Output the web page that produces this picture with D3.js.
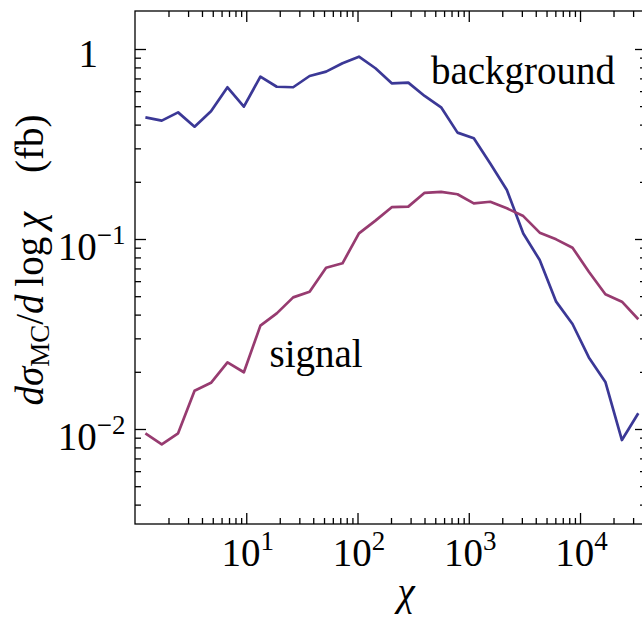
<!DOCTYPE html>
<html>
<head>
<meta charset="utf-8">
<script src="https://cdn.jsdelivr.net/npm/d3@7"></script>
<style>
  html, body { margin: 0; padding: 0; background: #fff; }
  svg { display: block; }
  text { font-family: "Liberation Serif", "Times New Roman", serif; fill: #000; }
</style>
</head>
<body>
<svg id="chart" width="642" height="617"></svg>
<script>
// ---- data ----
const chi = [1.24, 1.74, 2.44, 3.43, 4.82, 6.78, 9.52, 13.4, 18.8, 26.4, 37.1, 52.2, 73.3, 103, 145, 203, 286, 401, 564, 792, 1110, 1560, 2200, 3090, 4340, 6100, 8560, 12000, 16900, 23800, 33400];
const background = [0.437, 0.420, 0.464, 0.390, 0.470, 0.629, 0.497, 0.715, 0.633, 0.629, 0.721, 0.760, 0.841, 0.911, 0.792, 0.660, 0.665, 0.566, 0.493, 0.363, 0.339, 0.250, 0.181, 0.107, 0.0775, 0.0468, 0.0357, 0.0238, 0.0177, 0.00875, 0.0121];
const signal = [0.00949, 0.00830, 0.00949, 0.0159, 0.0175, 0.0224, 0.0199, 0.0350, 0.0406, 0.0493, 0.0528, 0.0706, 0.0745, 0.107, 0.125, 0.147, 0.148, 0.175, 0.177, 0.172, 0.154, 0.157, 0.145, 0.132, 0.108, 0.0996, 0.0900, 0.0673, 0.0512, 0.0468, 0.0378];
const xMajorTicks = [10, 100, 1000, 10000];
const xTickExp = ["1", "2", "3", "4"];
const yMajorTicks = [1, 0.1, 0.01];
const yTickBase = ["1", "10", "10"];
const yTickExp = ["", "\u22121", "\u22122"];
const seriesNames = ["background", "signal"];
const seriesColors = ["#3b3896", "#973b70"];

(function () {
// ---- layout ----
const pL = 135, pR = 646, pT = 11, pB = 524;
const svg = d3.select("#chart");

const x = d3.scaleLog().domain([1, Math.pow(10, 4.593)]).range([pL, pR]);
const y = d3.scaleLog().domain([Math.pow(10, -2.5), Math.pow(10, 0.2)]).range([pB, pT]);

const xMinor = x.ticks().filter(v => !xMajorTicks.includes(v) && v > x.domain()[0] && v <= x.domain()[1]);
const yMinor = y.ticks().filter(v => !yMajorTicks.some(t => Math.abs(t - v) / t < 1e-6));

svg.append("defs").append("clipPath").attr("id", "clip")
  .append("rect").attr("x", pL).attr("y", pT).attr("width", pR - pL).attr("height", pB - pT);

const line = d3.line().x((d, i) => x(chi[i])).y(d => y(d));
[background, signal].forEach((s, k) => {
  svg.append("path").datum(s)
    .attr("clip-path", "url(#clip)")
    .attr("d", line)
    .attr("fill", "none")
    .attr("stroke", seriesColors[k])
    .attr("stroke-width", 2.7)
    .attr("stroke-linejoin", "round")
    .attr("stroke-linecap", "butt");
});

function styleAxis(g) {
  g.select(".domain").remove();
  g.selectAll(".tick line").attr("stroke", "#000").attr("stroke-width", 1.3);
  g.selectAll(".tick text").remove();
}
const majorLen = 11, minorLen = 6;
svg.append("g").attr("transform", `translate(0,${pB})`)
  .call(d3.axisBottom(x).tickValues(xMajorTicks).tickSize(-majorLen)).call(styleAxis);
svg.append("g").attr("transform", `translate(0,${pB})`)
  .call(d3.axisBottom(x).tickValues(xMinor).tickSize(-minorLen)).call(styleAxis);
svg.append("g").attr("transform", `translate(0,${pT})`)
  .call(d3.axisTop(x).tickValues(xMajorTicks).tickSize(-majorLen)).call(styleAxis);
svg.append("g").attr("transform", `translate(0,${pT})`)
  .call(d3.axisTop(x).tickValues(xMinor).tickSize(-minorLen)).call(styleAxis);
svg.append("g").attr("transform", `translate(${pL},0)`)
  .call(d3.axisLeft(y).tickValues(yMajorTicks).tickSize(-majorLen)).call(styleAxis);
svg.append("g").attr("transform", `translate(${pL},0)`)
  .call(d3.axisLeft(y).tickValues(yMinor).tickSize(-minorLen)).call(styleAxis);
svg.append("g").attr("transform", `translate(${pR},0)`)
  .call(d3.axisRight(y).tickValues(yMajorTicks).tickSize(-majorLen)).call(styleAxis);
svg.append("g").attr("transform", `translate(${pR},0)`)
  .call(d3.axisRight(y).tickValues(yMinor).tickSize(-minorLen)).call(styleAxis);

svg.append("rect").attr("x", pL).attr("y", pT).attr("width", pR - pL).attr("height", pB - pT)
  .attr("fill", "none").attr("stroke", "#000").attr("stroke-width", 1.3);

const fs = 39, fsSup = 27;

xMajorTicks.forEach((v, i) => {
  const t = svg.append("text")
    .attr("x", x(v) + 1.5).attr("y", 565.5)
    .attr("text-anchor", "middle")
    .attr("font-size", fs);
  t.append("tspan").text("10");
  t.append("tspan").attr("font-size", fsSup).attr("dy", -16).text(xTickExp[i]);
});

yMajorTicks.forEach((v, i) => {
  const isOne = yTickExp[i] === "";
  const t = svg.append("text")
    .attr("x", isOne ? 98 : 125.5)
    .attr("y", y(v) + (isOne ? 17.7 : 21))
    .attr("text-anchor", "end")
    .attr("font-size", fs);
  t.append("tspan").text(yTickBase[i]);
  if (!isOne) t.append("tspan").attr("font-size", fsSup).attr("dy", -16).text(yTickExp[i]);
});

svg.append("text").attr("x", 406).attr("y", 605)
  .attr("text-anchor", "middle").attr("font-size", fs).attr("font-style", "italic").text("\u03c7");

const yl = svg.append("text")
  .attr("transform", "translate(43,260) rotate(-90)")
  .attr("text-anchor", "middle").attr("font-size", fs);
yl.append("tspan").attr("font-style", "italic").text("d\u03c3");
yl.append("tspan").attr("font-size", fsSup).attr("dy", 6).text("MC");
yl.append("tspan").attr("dy", -6).text("/");
yl.append("tspan").attr("font-style", "italic").text("d");
yl.append("tspan").text("\u2009log\u2009");
yl.append("tspan").attr("font-style", "italic").text("\u03c7");
yl.append("tspan").text("\u2003(fb)");

svg.append("text").attr("x", 431).attr("y", 83.5).attr("font-size", fs).text(seriesNames[0]);
svg.append("text").attr("x", 269.5).attr("y", 367).attr("font-size", fs).text(seriesNames[1]);
})();
</script>
</body>
</html>
